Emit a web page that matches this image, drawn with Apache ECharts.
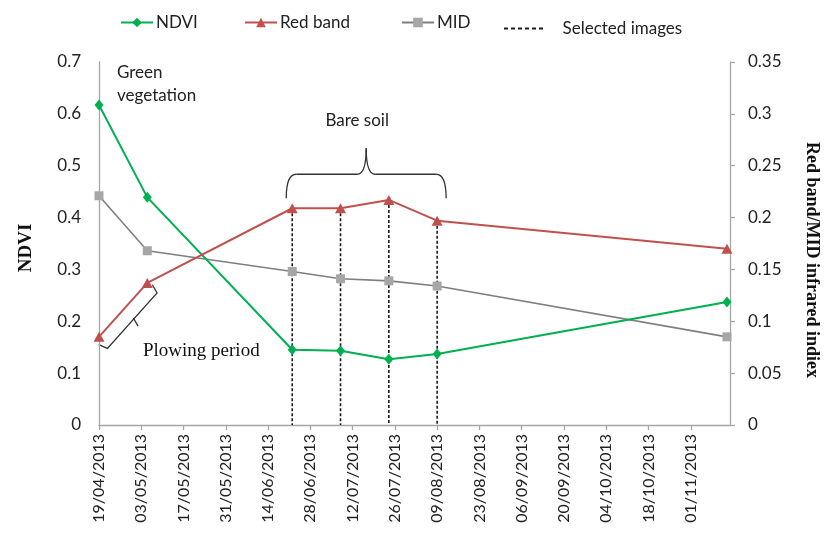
<!DOCTYPE html>
<html>
<head>
<meta charset="utf-8">
<script src="https://cdn.jsdelivr.net/npm/echarts@6/dist/echarts.min.js"></script>
<style>
  html, body { margin: 0; padding: 0; background: #ffffff; }
  #chart { width: 826px; height: 534px; }
</style>
</head>
<body>
<div id="chart"></div>
<script>
// Image acquisition dates (dd/mm/yyyy)
const dates = ['19/04/2013', '05/05/2013', '22/06/2013', '08/07/2013', '24/07/2013', '09/08/2013', '13/11/2013'];
// NDVI (left axis)
const ndvi = [0.617, 0.439, 0.145, 0.143, 0.127, 0.137, 0.237];
// Red band and MID infrared indices (right axis)
const redBand = [0.085, 0.137, 0.209, 0.209, 0.217, 0.197, 0.170];
const mid = [0.221, 0.168, 0.148, 0.141, 0.139, 0.134, 0.085];
// Images retained for the bare-soil analysis
const selectedDates = ['22/06/2013', '08/07/2013', '24/07/2013', '09/08/2013'];

// Axis ranges
const axisStart = '19/04/2013';
const axisEnd = '14/11/2013';
const tickDays = 14;
const ndviAxis = { min: 0, max: 0.7, step: 0.1 };
const indexAxis = { min: 0, max: 0.35, step: 0.05 };

const seriesNames = ['NDVI', 'Red band', 'MID', 'Selected images'];
const GREEN = '#00B050', RED = '#C0504D', GREY_LINE = '#7f7f7f', GREY_MARK = '#a6a6a6';
const SANS = 'Lato', SERIF = 'Liberation Serif';

const DAY = 86400000;
function parseDate(s) {
  const [d, m, y] = s.split('/').map(Number);
  return Date.UTC(y, m - 1, d);
}
const t0 = parseDate(axisStart);
const dayOf = s => (parseDate(s) - t0) / DAY;
const pad2 = n => (n < 10 ? '0' : '') + n;
function fmtDay(v) {
  const dt = new Date(t0 + v * DAY);
  return pad2(dt.getUTCDate()) + '/' + pad2(dt.getUTCMonth() + 1) + '/' + dt.getUTCFullYear();
}

const xs = dates.map(dayOf);
const pairs = vals => vals.map((v, i) => [xs[i], v]);

// Vertical dashed drop lines from the red band value down to zero
const dropData = [];
selectedDates.forEach(s => {
  const i = dates.indexOf(s);
  dropData.push([xs[i], redBand[i]], [xs[i], 0], [xs[i], '-']);
});

const axisGrey = '#a6a6a6';
const legendLeft = [120, 244, 401, 504];
// Dashed legend key for the drop lines
const dashIcon = 'path://M0,0h4v2h-4z M7,0h4v2h-4z M14,0h4v2h-4z M21,0h4v2h-4z M28,0h4v2h-4z M35,0h4v2h-4z';

const option = {
  animation: false,
  backgroundColor: '#ffffff',
  grid: { left: 99, right: 96, top: 62, bottom: 109, containLabel: false, outerBoundsMode: 'none' },
  legend: seriesNames.map((n, i) => ({
    data: i === 3 ? [{ name: n, icon: dashIcon }] : [n],
    left: legendLeft[i],
    top: i === 3 ? 20 : 14,
    padding: 0,
    itemWidth: i === 3 ? 40 : 32,
    itemHeight: i === 3 ? 2 : 12,
    selectedMode: false,
    textStyle: { fontFamily: SANS, fontSize: 17, color: '#222',
                 padding: i === 3 ? [0, 0, 0, 14] : [0, 0, 0, -2] }
  })),
  xAxis: {
    type: 'value',
    min: 0,
    max: dayOf(axisEnd),
    interval: tickDays,
    splitLine: { show: false },
    axisLine: { show: true, onZero: false, lineStyle: { color: axisGrey, width: 1.3 } },
    axisTick: { show: true, length: 5, lineStyle: { color: axisGrey, width: 1.3 } },
    axisLabel: {
      rotate: 90,
      margin: 9,
      showMaxLabel: false,
      fontFamily: SANS,
      fontSize: 16,
      color: '#222',
      formatter: v => (v % tickDays === 0 ? fmtDay(v) : '')
    }
  },
  yAxis: [
    {
      type: 'value',
      position: 'left',
      min: ndviAxis.min, max: ndviAxis.max, interval: ndviAxis.step,
      splitLine: { show: false },
      axisLine: { show: true, lineStyle: { color: axisGrey, width: 1.3 } },
      axisTick: { show: false },
      axisLabel: { margin: 18, fontFamily: SANS, fontSize: 17, color: '#222' }
    },
    {
      type: 'value',
      position: 'right',
      min: indexAxis.min, max: indexAxis.max, interval: indexAxis.step,
      splitLine: { show: false },
      axisLine: { show: true, lineStyle: { color: axisGrey, width: 1.3 } },
      axisTick: { show: true, length: 5, lineStyle: { color: axisGrey, width: 1.3 } },
      axisLabel: { margin: 18, fontFamily: SANS, fontSize: 17, color: '#222' }
    }
  ],
  series: [
    {
      name: 'NDVI', type: 'line', yAxisIndex: 0, z: 4,
      data: pairs(ndvi),
      symbol: 'diamond', symbolSize: [9, 11],
      lineStyle: { color: GREEN, width: 2 },
      itemStyle: { color: GREEN }
    },
    {
      name: 'Red band', type: 'line', yAxisIndex: 1, z: 4,
      data: pairs(redBand),
      symbol: 'triangle', symbolSize: [11, 10],
      lineStyle: { color: RED, width: 2 },
      itemStyle: { color: RED }
    },
    {
      name: 'MID', type: 'line', yAxisIndex: 1, z: 3,
      data: pairs(mid),
      symbol: 'rect', symbolSize: 9,
      lineStyle: { color: GREY_LINE, width: 1.6 },
      itemStyle: { color: GREY_MARK }
    },
    {
      name: 'Selected images', type: 'line', yAxisIndex: 1, z: 2,
      data: dropData,
      symbol: 'none',
      connectNulls: false,
      lineStyle: { color: '#1a1a1a', width: 1.6, type: [3, 2] },
      itemStyle: { color: '#1a1a1a' }
    }
  ]
};

const chart = echarts.init(document.getElementById('chart'), null, { renderer: 'canvas' });
chart.setOption(option);

// Annotations anchored on the plotted points
const px = (i) => chart.convertToPixel({ seriesIndex: 1 }, [xs[i], redBand[i]]);
const pxNdvi = (i) => chart.convertToPixel({ seriesIndex: 0 }, [xs[i], ndvi[i]]);
const iA = dates.indexOf(selectedDates[0]);
const iB = dates.indexOf(selectedDates[selectedDates.length - 1]);
const pA = px(iA), pB = px(iB);

const ink = { stroke: '#333', lineWidth: 1.3, fill: null };

// Curly brace over the bare soil period
const bl = pA[0] - 6, br = pB[0] + 9;
const bBottom = pA[1] - 10, bMid = bBottom - 24, bTip = bBottom - 50;
const bc = (bl + br) / 2;
const braceParts = [
  { type: 'bezierCurve', shape: { x1: bl, y1: bBottom, cpx1: bl, cpy1: bMid, x2: bl + 10, y2: bMid } },
  { type: 'line', shape: { x1: bl + 10, y1: bMid, x2: bc - 9, y2: bMid } },
  { type: 'bezierCurve', shape: { x1: bc - 9, y1: bMid, cpx1: bc, cpy1: bMid, x2: bc, y2: bTip } },
  { type: 'bezierCurve', shape: { x1: bc, y1: bTip, cpx1: bc, cpy1: bMid, x2: bc + 9, y2: bMid } },
  { type: 'line', shape: { x1: bc + 9, y1: bMid, x2: br - 10, y2: bMid } },
  { type: 'bezierCurve', shape: { x1: br - 10, y1: bMid, cpx1: br, cpy1: bMid, x2: br, y2: bBottom } }
].map(e => Object.assign(e, { style: ink }));

// Bracket along the plowing segment
const p1 = px(0), p2 = px(1);
const L = Math.hypot(p2[0] - p1[0], p2[1] - p1[1]);
const d = [(p2[0] - p1[0]) / L, (p2[1] - p1[1]) / L];
const n = [-d[1], d[0]];
const at = (a, b) => [p1[0] + d[0] * a + n[0] * b, p1[1] + d[1] * a + n[1] * b];
const plowPts = [at(-6, 5), at(-3, 14), at(L - 1, 14), at(L + 2, 5)];
const plowTick = [at(37, 13), at(34, 22)];

const g0 = pxNdvi(0);

chart.setOption({
  graphic: braceParts.concat([
    { type: 'text', x: bc - 9, y: bTip - 28, style: { text: 'Bare soil', font: '17px ' + SANS, fill: '#222', align: 'center', verticalAlign: 'middle' } },
    { type: 'polyline', shape: { points: plowPts }, style: ink },
    { type: 'polyline', shape: { points: plowTick }, style: ink },
    { type: 'text', x: p1[0] + 44, y: p1[1] + 14, style: { text: 'Plowing period', font: '19px ' + SERIF, fill: '#111', align: 'left', verticalAlign: 'middle' } },
    { type: 'text', x: g0[0] + 18, y: g0[1] - 33, style: { text: 'Green', font: '17px ' + SANS, fill: '#222', align: 'left', verticalAlign: 'middle' } },
    { type: 'text', x: g0[0] + 18, y: g0[1] - 10, style: { text: 'vegetation', font: '17px ' + SANS, fill: '#222', align: 'left', verticalAlign: 'middle' } },
    { type: 'text', x: 26, y: 248, rotation: Math.PI / 2, style: { text: 'NDVI', font: 'bold 19px ' + SERIF, fill: '#111', align: 'center', verticalAlign: 'middle' } },
    { type: 'text', x: 812, y: 260, rotation: -Math.PI / 2, style: { text: 'Red band/MID infrared indiex', font: 'bold 18px ' + SERIF, fill: '#111', align: 'center', verticalAlign: 'middle' } }
  ])
});
</script>
</body>
</html>
